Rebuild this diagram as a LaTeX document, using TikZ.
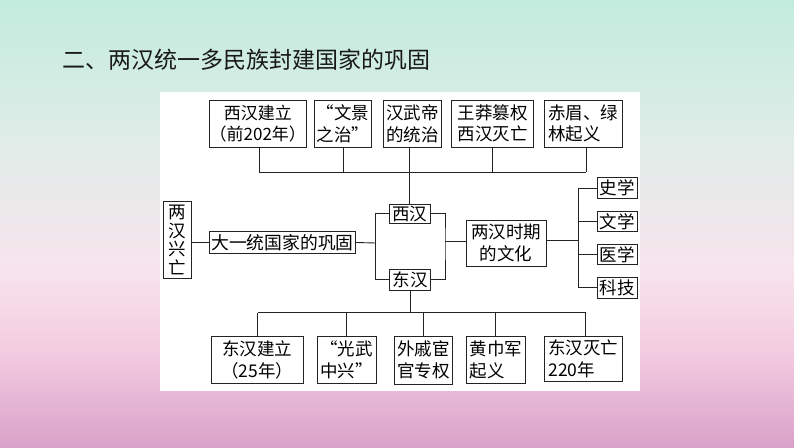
\documentclass[tikz,border=0pt]{standalone}
\usepackage{fontspec}
\setmainfont{Noto Sans CJK SC}
\newfontfamily\cjk{Noto Sans CJK SC}
\definecolor{bgA}{RGB}{194,236,222}
\definecolor{bgB}{RGB}{226,236,233}
\definecolor{bgC}{RGB}{247,228,236}
\definecolor{bgD}{RGB}{243,204,224}
\definecolor{bgE}{RGB}{218,162,202}
\definecolor{lineC}{RGB}{35,35,35}
\tikzset{
  bx/.style={draw=lineC, line width=0.9pt, fill=white, inner sep=0pt, align=center,
    font=\fontsize{17.5}{21.5}\selectfont\cjk, text=black},
  lbx/.style={bx, align=left},
  ln/.style={draw=lineC, line width=0.9pt},
}
\begin{document}
\begin{tikzpicture}[x=1pt,y=-1pt]
\useasboundingbox (0,0) rectangle (794,447);
% background
\shade[top color=bgA, bottom color=bgB] (0,0) rectangle (794,150.5);
\shade[top color=bgB, bottom color=bgC] (0,150) rectangle (794,270.5);
\shade[top color=bgC, bottom color=bgD] (0,270) rectangle (794,350.5);
\shade[top color=bgD, bottom color=bgE] (0,350) rectangle (794,447);
% title
\node[anchor=west, inner sep=0pt, font=\fontsize{23}{26}\selectfont\cjk, text={rgb,255:red,25;green,25;blue,25}] (title) at (62,60) {二、两汉统一多民族封建国家的巩固};
% white panel
\fill[white] (160,92) rectangle (640,391);
% top row
\node[bx, minimum width=92pt, minimum height=47.5pt, font=\fontsize{17}{21.5}\selectfont\cjk] (a1) at (257.8,123.8) {西汉建立\\（前202年）};
\node[bx, minimum width=57.5pt, minimum height=47.5pt] (a2) at (343,123.8) {“文景\\之治”};
\node[bx, minimum width=58.5pt, minimum height=47.5pt] (a3) at (412.5,123.8) {汉武帝\\的统治};
\node[lbx, minimum width=81.5pt, minimum height=47pt] (a4) at (492.5,123.5) {王莽篡权\\西汉灭亡};
\node[lbx, minimum width=78pt, minimum height=47pt] (a5) at (583.3,123.5) {赤眉、绿\\林起义};
% left side
\node[bx, minimum width=28.5pt, minimum height=76.5pt, font=\fontsize{17.5}{18.5}\selectfont\cjk] (lx) at (177.5,240) {两\\汉\\兴\\亡};
\node[bx, minimum width=146.5pt, minimum height=21.5pt, font=\fontsize{17.8}{21}\selectfont\cjk] (dy) at (282.5,242.5) {大一统国家的巩固};
\node[bx, minimum width=40.7pt, minimum height=19.5pt] (xh) at (409.7,213.7) {西汉};
\node[bx, minimum width=41.4pt, minimum height=21pt] (dh) at (410,279.8) {东汉};
\node[bx, minimum width=80pt, minimum height=46pt] (wh) at (506,243) {两汉时期\\的文化};
% culture
\node[bx, minimum width=40pt, minimum height=20.7pt] (c1) at (617.3,188) {史学};
\node[bx, minimum width=40pt, minimum height=20.7pt] (c2) at (617.3,221.3) {文学};
\node[bx, minimum width=40pt, minimum height=20.7pt] (c3) at (617.3,254.5) {医学};
\node[bx, minimum width=40pt, minimum height=20.7pt] (c4) at (617.3,287.8) {科技};
% bottom row
\node[bx, minimum width=92.3pt, minimum height=46.6pt] (b1) at (257.2,360) {东汉建立\\（25年）};
\node[bx, minimum width=58.7pt, minimum height=46.6pt] (b2) at (346.7,360) {“光武\\中兴”};
\node[bx, minimum width=58.7pt, minimum height=48pt] (b3) at (423.3,360) {外戚宦\\官专权};
\node[lbx, minimum width=58.3pt, minimum height=47.3pt] (b4) at (495.8,359.7) {黄巾军\\起义};
\node[lbx, minimum width=78pt, minimum height=45.7pt] (b5) at (583.3,358.8) {东汉灭亡\\220年};
% coordinates
\coordinate (tl) at (259,172.3);
\coordinate (tr) at (586,172.3);
\coordinate (jl) at (375.7,243);
\coordinate (jr) at (445,241.7);
\coordinate (cb) at (578.3,240);
\coordinate (bl) at (257.7,312.7);
\coordinate (br) at (585.7,312.7);
% top connectors
\draw[ln] (tl) -- (tr);
\draw[ln] (a1.south -| tl) -- (tl);
\draw[ln] (a2.south) -- (a2.south |- tl);
\draw[ln] (a4.south) -- (a4.south |- tl);
\draw[ln] (a5.south -| tr) -- (tr);
\draw[ln] (a3.south -| xh.north) -- (xh.north);
% left connectors
\draw[ln] (lx.east |- dy.west) -- (dy.west);
\draw[ln] (dy.east) -- (jl);
\draw[ln] (xh.west) -| (jl) |- (dh.west);
\draw[ln] (xh.east) -| (jr) |- (dh.east);
\draw[ln] (jr) -- (wh.west |- jr);
% culture bracket
\draw[ln] (wh.east |- cb) -- (cb);
\draw[ln] (c1.west) -| (cb) |- (c4.west);
\draw[ln] (c2.west) -- (c2.west -| cb);
\draw[ln] (c3.west) -- (c3.west -| cb);
% bottom connectors
\draw[ln] (dh.south) -- (dh.south |- bl);
\draw[ln] (bl) -- (br);
\draw[ln] (bl) -- (b1.north -| bl);
\draw[ln] (b2.north |- bl) -- (b2.north);
\draw[ln] (b3.north |- bl) -- (b3.north);
\draw[ln] (b4.north |- bl) -- (b4.north);
\draw[ln] (br) -- (b5.north -| br);
\end{tikzpicture}
\end{document}
